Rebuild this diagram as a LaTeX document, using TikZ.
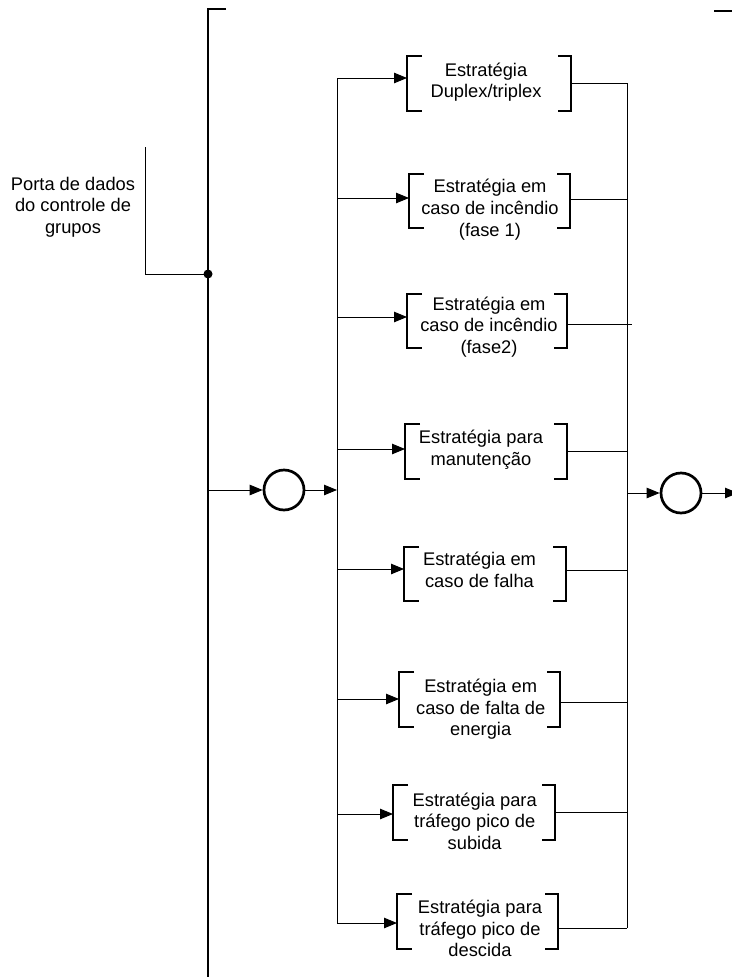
\documentclass[tikz,border=0pt]{standalone}
\usepackage{fontspec}
\setmainfont{Liberation Sans}
\usetikzlibrary{arrows.meta,fit}

% one strategy block: bracket frame with its caption
% #1 name, #2 left, #3 right, #4 top, #5 bottom, #6 caption x, #7 last baseline, #8 caption
\newcommand\stratblock[8]{%
  \node[fit={(#2,#4) (#3,#5)}, inner sep=0pt, outer sep=0pt] (#1) {};
  \draw[heavy] ([xshift=15pt]#1.north west) -| (#1.south west) -- ++(15,0);
  \draw[heavy] ([xshift=-13pt]#1.north east) -| (#1.south east) -- ++(-13,0);
  \node[caption] (#1t) at (#6,#7) {#8};
}

\begin{document}
\begin{tikzpicture}[x=1pt,y=-1pt,
  wire/.style={line width=0.9pt},
  heavy/.style={line width=2.5pt},
  feed/.style={wire,-{Triangle[length=13pt,width=10.5pt]}},
  caption/.style={align=center, inner sep=0pt, anchor=base,
    font=\fontsize{18.3pt}{21.7pt}\selectfont},
  junction/.style={circle, draw, line width=2.7pt, minimum size=40pt, inner sep=0pt}
]
\useasboundingbox (0,0) rectangle (731,977);

% main frame line
\coordinate (frameTL) at (226,9);
\coordinate (frameC) at (208,9);
\coordinate (frameB) at (208,980);
\draw[heavy] (frameTL) -- (frameC) -- (frameB);
\coordinate (frameRa) at (714,11);
\coordinate (frameRb) at (735,11);
\draw[heavy] (frameRa) -- (frameRb);

% data port of the group control
\node[caption] (port) at (73,233.4) {Porta de dados\\do controle de\\grupos};
\node[circle, fill, inner sep=0pt, minimum size=9pt] (dot) at (208,274) {};
\coordinate (portTop) at (145,147);
\draw[wire] (portTop) |- (dot.center);

% dispatcher junction
\node[junction] (c1) at (284,490) {};
\draw[feed] (c1.west -| frameC) -- (c1.west);
\coordinate (lbT) at (337,78);
\coordinate (lbB) at (337,923);
\draw[wire] (lbT) -- (lbB);
\draw[feed] (c1.east) -- (c1.east -| lbT);

% collecting junction
\coordinate (rbT) at (627,83);
\coordinate (rbB) at (627,928);
\draw[wire] (rbT) -- (rbB);
\node[junction] (c2) at (681,493) {};
\draw[feed] (c2.west -| rbT) -- (c2.west);
\coordinate (exit) at (738,493);
\draw[feed] (c2.east) -- (exit);

% strategy blocks
\stratblock{b1}{407}{571}{56}{111}{486}{97.7}{Estratégia\\Duplex/triplex}
\stratblock{b2}{409}{570}{174}{228}{490}{236.1}{Estratégia em\\caso de incêndio\\(fase 1)}
\stratblock{b3}{407}{567}{294}{348}{489}{353.4}{Estratégia em\\caso de incêndio\\(fase2)}
\stratblock{b4}{405}{567}{424}{479}{481}{465}{Estratégia para\\manutenção}
\stratblock{b5}{404}{566}{547}{601}{479.5}{587.4}{Estratégia em\\caso de falha}
\stratblock{b6}{399}{560}{672}{727}{480.7}{735.7}{Estratégia em\\caso de falta de\\energia}
\stratblock{b7}{393}{555}{785}{840}{474.7}{849.4}{Estratégia para\\tráfego pico de\\subida}
\stratblock{b8}{397}{558}{894}{949}{480}{956.7}{Estratégia para\\tráfego pico de\\descida}

% branches: bus -> block -> bus
\foreach \n/\yi/\xo/\yo in {b1/78/627/83, b2/198/627/199, b3/317/632/324, b4/449/627/451,
                            b5/569/627/570, b6/699/627/702, b7/814/627/812, b8/923/627/928}{
  \coordinate (\n in) at (337,\yi);
  \coordinate (\n out) at (\xo,\yo);
  \draw[feed] (\n in) -- (\n.west |- \n in);
  \draw[wire] (\n.east |- \n out) -- (\n out);
}
\end{tikzpicture}
\end{document}
